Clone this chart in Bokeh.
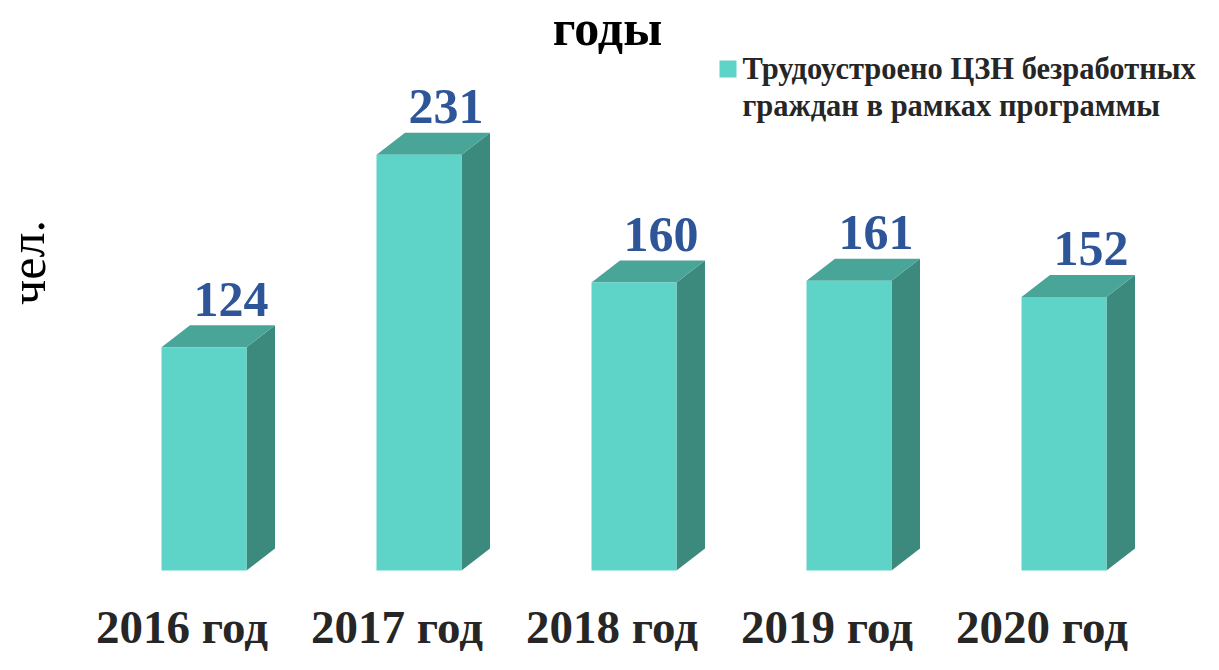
from bokeh.plotting import figure
from bokeh.models import Range1d, Label
from bokeh.embed import file_html
from bokeh.resources import INLINE
from bokeh.core.properties import value

# ---- data ----
categories = ["2016 год", "2017 год", "2018 год", "2019 год", "2020 год"]
employed = [124, 231, 160, 161, 152]
series_name = ["Трудоустроено ЦЗН безработных", "граждан в рамках программы"]
x_title = "годы"
y_title = "чел."

# ---- layout constants (pixels) ----
W, H = 1203, 654
PX_X = 215.0       # pixels per category
PX_Y = 1.8         # pixels per person
X0 = 203.5         # canvas x of first category centre
Y0 = 570.0         # canvas y of zero baseline
BAR_W = 85.0
DEPTH_X = 28.5
DEPTH_Y = 22.0
BASE_SHIFT = 0.38  # compensation of the svg baseline (em)

FRONT = "#5ED3C7"
TOP = "#49A598"
SIDE = "#3C897E"
LABEL_BLUE = "#2E5597"
DARK = "#262626"
SERIF = "Liberation Serif"


def dx(px):
    return px / PX_X


def dy(px):
    return px / PX_Y


def cx(canvas_x):
    return (canvas_x - X0) / PX_X


def cy(canvas_y):
    return (Y0 - canvas_y) / PX_Y


p = figure(width=W, height=H, output_backend="svg", toolbar_location=None,
           x_range=Range1d(cx(0), cx(W)), y_range=Range1d(cy(H), cy(0)),
           min_border=0, outline_line_color=None)
p.xaxis.visible = False
p.yaxis.visible = False
p.xgrid.visible = False
p.ygrid.visible = False
p.background_fill_color = "white"
p.border_fill_color = "white"

idx = list(range(len(categories)))
hw = dx(BAR_W / 2)
ddx = dx(DEPTH_X)
ddy = dy(DEPTH_Y)

# side faces
side_xs = [[i + hw, i + hw + ddx, i + hw + ddx, i + hw] for i in idx]
side_ys = [[0, ddy, v + ddy, v] for v in employed]
p.patches(side_xs, side_ys, fill_color=SIDE, line_color=None)

# top faces
top_xs = [[i - hw, i - hw + ddx, i + hw + ddx, i + hw] for i in idx]
top_ys = [[v, v + ddy, v + ddy, v] for v in employed]
p.patches(top_xs, top_ys, fill_color=TOP, line_color=None)

# front faces
p.quad(left=[i - hw for i in idx], right=[i + hw for i in idx],
       bottom=[0] * len(idx), top=employed, fill_color=FRONT, line_color=None)

# value labels
fs = 50
p.text(x=[i + dx(27) for i in idx],
       y=[v + ddy + dy(7 + BASE_SHIFT * fs) for v in employed],
       text=[str(v) for v in employed], text_align="center",
       text_baseline="alphabetic", text_color=LABEL_BLUE,
       text_font=value(SERIF), text_font_style="bold",
       text_font_size=f"{fs}px")

# category labels
fs = 47
p.text(x=[i - dx(22) for i in idx], y=[cy(644 - BASE_SHIFT * fs)] * len(idx),
       text=categories,
       text_align="center", text_baseline="alphabetic", text_color=DARK,
       text_font=value(SERIF), text_font_style="bold",
       text_font_size=f"{fs}px")

# title
fs = 50
p.add_layout(Label(x=cx(607), y=cy(46 - BASE_SHIFT * fs), text=x_title,
                   text_align="center",
                   text_baseline="alphabetic", text_color="black",
                   text_font=SERIF, text_font_style="bold",
                   text_font_size=f"{fs}px"))

# y-axis title
fs = 50
p.add_layout(Label(x=cx(46 - BASE_SHIFT * fs), y=cy(262), text=y_title,
                   angle=1.5708,
                   text_align="center", text_baseline="alphabetic",
                   text_color="black", text_font=SERIF,
                   text_font_style="normal", text_font_size=f"{fs}px"))

# legend
p.scatter(x=[cx(727.5)], y=[cy(68.5)], marker="square", size=17,
          fill_color=FRONT, line_color=None)
fs = 30.5
for k, line in enumerate(series_name):
    p.add_layout(Label(x=cx(742), y=cy(80 + 37 * k - BASE_SHIFT * fs),
                       text=line,
                       text_align="left", text_baseline="alphabetic",
                       text_color=DARK, text_font=SERIF,
                       text_font_style="bold", text_font_size=f"{fs}px"))

open("out.html", "w").write(file_html(p, INLINE))
